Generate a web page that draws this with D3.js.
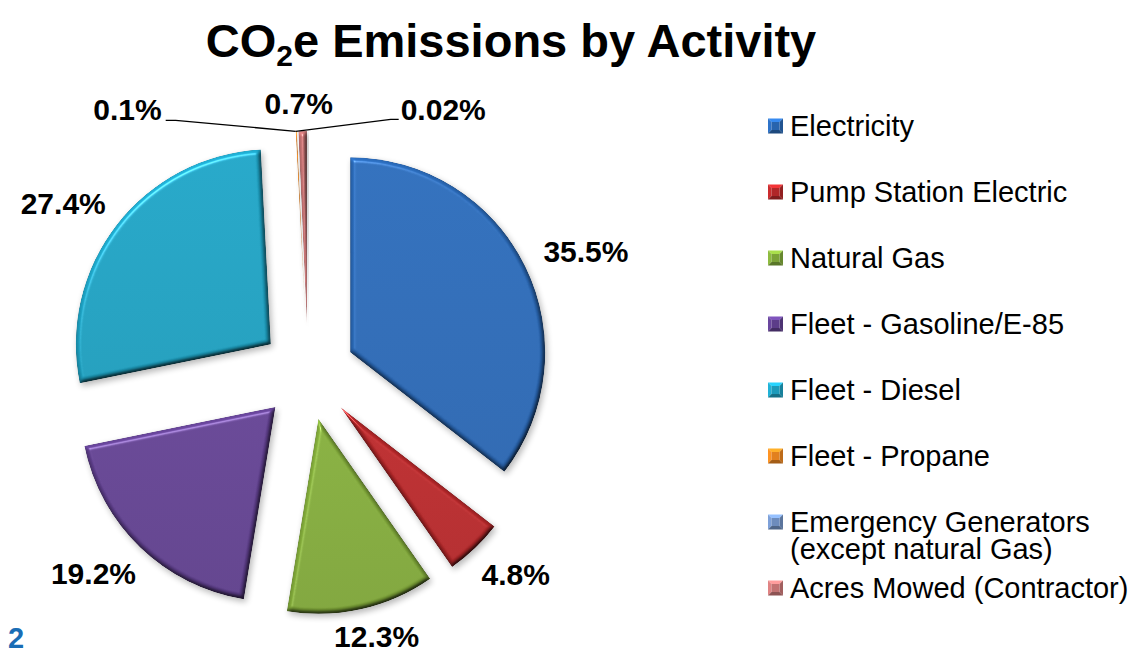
<!DOCTYPE html>
<html>
<head>
<meta charset="utf-8">
<script src="https://cdn.jsdelivr.net/npm/d3@7/dist/d3.min.js"></script>
<style>
  html, body { margin: 0; padding: 0; background: #ffffff; }
  svg { display: block; font-family: "Liberation Sans", Arial, sans-serif; }
</style>
</head>
<body>
<script>
// Share of CO2e emissions per activity (percent of total)
const categories = [
  "Electricity",
  "Pump Station Electric",
  "Natural Gas",
  "Fleet - Gasoline/E-85",
  "Fleet - Diesel",
  "Fleet - Propane",
  "Emergency Generators (except natural Gas)",
  "Acres Mowed (Contractor)"
];
const shares = [35.5, 4.8, 12.3, 19.2, 27.4, 0.1, 0.02, 0.7];
const sliceColors = ["#2864ae", "#b02628", "#7ba237", "#5c3d89", "#1c9aba", "#e2801e", "#6d8cbc", "#c27272"];

const W = 1134, H = 654;
const cx = 308, cy = 373;      // pie centre
const R = 195;                 // pie radius
const explode = 47;            // distance each slice is pulled out
const labelPad = 25;           // gap between arc and its data label

const data = categories.map((c, i) => ({ name: c, value: shares[i], color: sliceColors[i], index: i }));

const svg = d3.select("body").append("svg")
  .attr("width", W).attr("height", H);

// ---- filters: bevelled slice surface with soft drop shadow ----
const defs = svg.append("defs");
const f = defs.append("filter").attr("id", "bevel")
  .attr("x", "-10%").attr("y", "-10%").attr("width", "125%").attr("height", "125%")
  .attr("color-interpolation-filters", "sRGB");
f.append("feGaussianBlur").attr("in", "SourceAlpha").attr("stdDeviation", 2.2).attr("result", "b");
f.append("feDiffuseLighting").attr("in", "b").attr("surfaceScale", 3).attr("diffuseConstant", 1)
  .attr("lighting-color", "#ffffff").attr("result", "d")
  .append("feDistantLight").attr("azimuth", 240).attr("elevation", 60);
f.append("feComposite").attr("in", "SourceGraphic").attr("in2", "d").attr("operator", "arithmetic")
  .attr("k1", 1.155).attr("k2", 0).attr("k3", 0).attr("k4", 0).attr("result", "shaded");
f.append("feSpecularLighting").attr("in", "b").attr("surfaceScale", 3).attr("specularConstant", 0.8)
  .attr("specularExponent", 55).attr("lighting-color", "#ffffff").attr("result", "s")
  .append("feDistantLight").attr("azimuth", 240).attr("elevation", 60);
f.append("feComposite").attr("in", "s").attr("in2", "SourceAlpha").attr("operator", "in").attr("result", "sIn");
f.append("feComposite").attr("in", "shaded").attr("in2", "sIn").attr("operator", "arithmetic")
  .attr("k1", 0).attr("k2", 1).attr("k3", 0.4).attr("k4", 0).attr("result", "lit");
f.append("feComposite").attr("in", "lit").attr("in2", "SourceAlpha").attr("operator", "in").attr("result", "litIn");
f.append("feGaussianBlur").attr("in", "SourceAlpha").attr("stdDeviation", 3).attr("result", "sb");
f.append("feOffset").attr("in", "sb").attr("dx", 2).attr("dy", 3).attr("result", "so");
f.append("feComponentTransfer").attr("in", "so").attr("result", "shadow")
  .append("feFuncA").attr("type", "linear").attr("slope", 0.28);
const fm = f.append("feMerge");
fm.append("feMergeNode").attr("in", "shadow");
fm.append("feMergeNode").attr("in", "litIn");

// subtle top-to-bottom shading on every slice colour
data.forEach(d => {
  const g = defs.append("linearGradient").attr("id", "grad" + d.index)
    .attr("x1", 0).attr("y1", 0).attr("x2", 0).attr("y2", 1);
  g.append("stop").attr("offset", "0%").attr("stop-color", d3.color(d.color).brighter(0.08));
  g.append("stop").attr("offset", "100%").attr("stop-color", d3.color(d.color).darker(0.1));
});

// ---- title ----
const title = svg.append("text")
  .attr("x", 511).attr("y", 57)
  .attr("text-anchor", "middle")
  .attr("font-weight", "bold").attr("font-size", 47).attr("fill", "#000");
title.append("tspan").text("CO");
title.append("tspan").attr("font-size", 30).attr("dy", 9).text("2");
title.append("tspan").attr("dy", -9).text("e Emissions by Activity");

// ---- pie ----
const pie = d3.pie().sort(null).value(d => d.value).startAngle(0).endAngle(2 * Math.PI);
const arcs = pie(data);
const arc = d3.arc().innerRadius(0).outerRadius(R);

arcs.forEach(a => {
  a.mid = (a.startAngle + a.endAngle) / 2;
  a.ux = Math.sin(a.mid);
  a.uy = -Math.cos(a.mid);
  a.vx = cx + explode * a.ux;
  a.vy = cy + explode * a.uy;
});

svg.append("g").selectAll("path")
  .data(arcs)
  .join("path")
  .attr("transform", a => `translate(${a.vx},${a.vy})`)
  .attr("d", arc)
  .attr("fill", a => `url(#grad${a.data.index})`)
  .attr("filter", "url(#bevel)");

// ---- data labels ----
const fmt = v => `${v}%`;
const labelG = svg.append("g")
  .attr("font-weight", "bold").attr("font-size", 30).attr("fill", "#000");

const big = arcs.filter(a => a.data.value >= 1);
const small = arcs.filter(a => a.data.value < 1);

big.forEach(a => {
  const t = labelG.append("text").attr("text-anchor", "middle").text(fmt(a.data.value));
  const w = t.node().getComputedTextLength();
  const h = 22;
  const ax = a.vx + (R + labelPad) * a.ux;
  const ay = a.vy + (R + labelPad) * a.uy;
  const mx = ax + (w / 2) * a.ux;
  // keep labels inside the chart area
  const my = Math.min(ay + (h / 2) * a.uy, H - 18);
  t.attr("x", mx).attr("y", my + 11);
});

// tiny slices: labels lined up above the pie, joined by leader lines
const sortedSmall = small.slice().sort((p, q) => q.data.value - p.data.value);
const tip = (() => {
  const a = sortedSmall.find(s => s.data.index === 5) || sortedSmall[0];
  return { x: a.vx + R * Math.sin(a.startAngle), y: a.vy - R * Math.cos(a.startAngle) };
})();
sortedSmall.forEach((a, k) => {
  const t = labelG.append("text").text(fmt(a.data.value));
  if (k === 0) {
    t.attr("text-anchor", "middle").attr("x", tip.x + 3).attr("y", tip.y - 17);
  } else if (k === 1) {
    const rx = tip.x - 134;
    t.attr("text-anchor", "end").attr("x", rx).attr("y", tip.y - 11);
    svg.append("path")
      .attr("d", d3.line()([[rx + 4, tip.y - 11], [rx + 14, tip.y - 11], [tip.x, tip.y]]))
      .attr("fill", "none").attr("stroke", "#000").attr("stroke-width", 1.3);
  } else {
    const lx = tip.x + 105;
    t.attr("text-anchor", "start").attr("x", lx).attr("y", tip.y - 11);
    svg.append("path")
      .attr("d", d3.line()([[lx - 2, tip.y - 12], [lx - 10, tip.y - 12], [tip.x, tip.y]]))
      .attr("fill", "none").attr("stroke", "#000").attr("stroke-width", 1.3);
  }
});

// ---- legend ----
const ly = d3.scalePoint().domain(categories).range([126, 588]);
const legend = svg.append("g").attr("font-size", 29).attr("fill", "#000");
const sw = 15;
data.forEach(d => {
  const y = ly(d.name);
  const x0 = 768, y0 = y - sw / 2;
  const g = legend.append("g");
  const base = d3.color(d.color);
  const tri = (pts, c) => g.append("path").attr("d", d3.line()(pts) + "Z").attr("fill", c);
  const x1 = x0 + sw, y1 = y0 + sw, b = 3.5;
  tri([[x0, y0], [x1, y0], [x1 - b, y0 + b], [x0 + b, y0 + b]], base.brighter(0.9));
  tri([[x0, y0], [x0 + b, y0 + b], [x0 + b, y1 - b], [x0, y1]], base.brighter(0.4));
  tri([[x1, y0], [x1, y1], [x1 - b, y1 - b], [x1 - b, y0 + b]], base.darker(0.5));
  tri([[x0, y1], [x0 + b, y1 - b], [x1 - b, y1 - b], [x1, y1]], base.darker(0.9));
  g.append("rect").attr("x", x0 + b).attr("y", y0 + b).attr("width", sw - 2 * b).attr("height", sw - 2 * b).attr("fill", base);

  const parts = d.name.split(/ (?=\()/);
  const lines = parts.length > 1 && d.name.startsWith("Emergency") ? parts : [d.name];
  const t = legend.append("text").attr("x", 790).attr("y", y + 10);
  lines.forEach((ln, j) => {
    t.append("tspan").attr("x", 790).attr("dy", j === 0 ? 0 : 27).text(ln);
  });
});

// ---- slide number ----
svg.append("text").attr("x", 8).attr("y", 648)
  .attr("font-weight", "bold").attr("font-size", 29).attr("fill", "#1a6db5").text("2");
</script>
</body>
</html>
